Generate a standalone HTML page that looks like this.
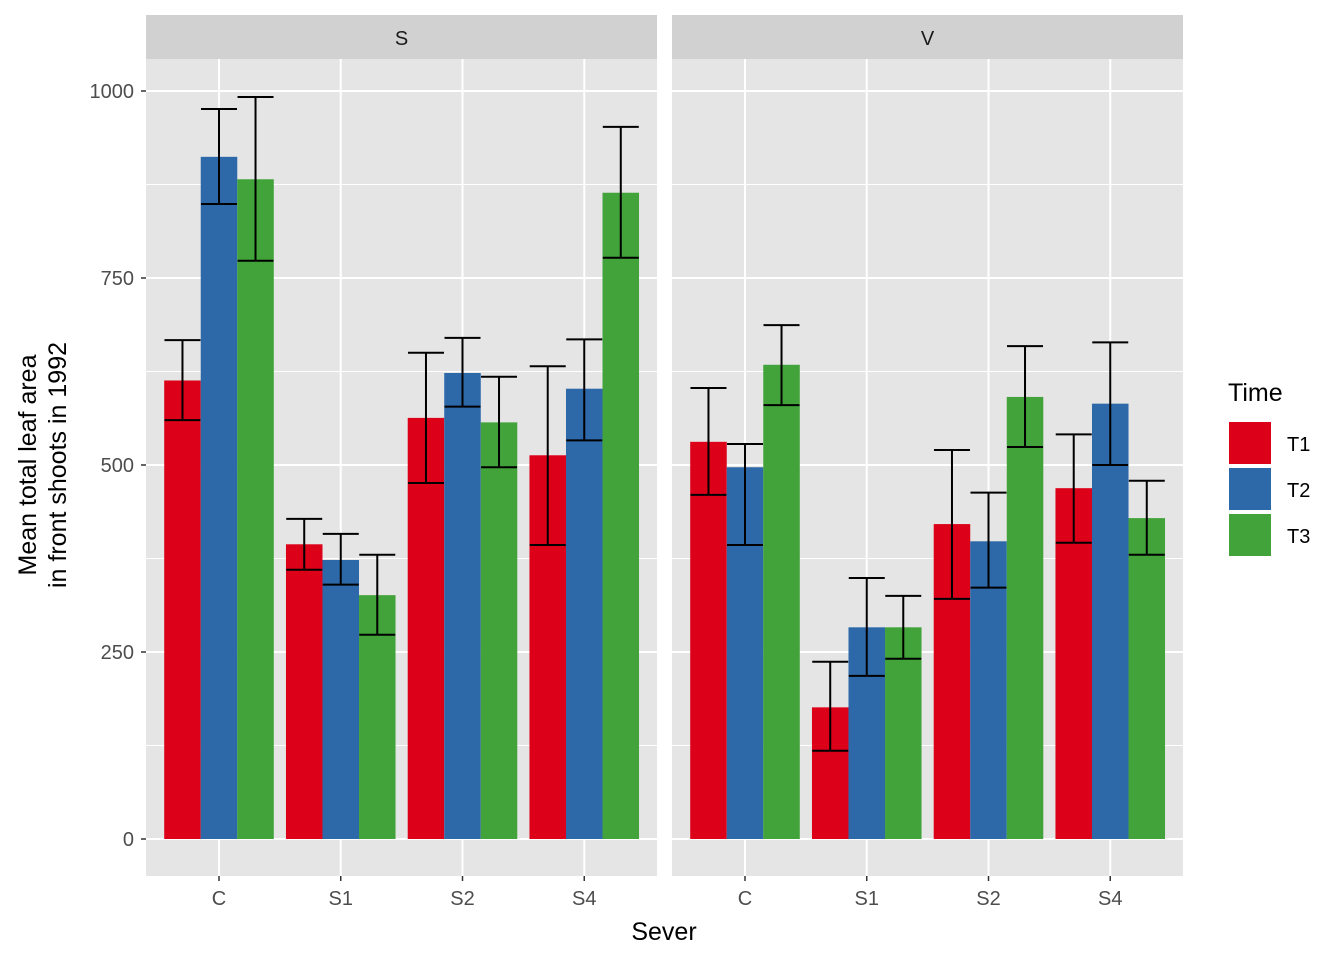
<!DOCTYPE html>
<html><head><meta charset="utf-8"><style>
body{margin:0;background:#fff;}
svg{display:block;font-family:"Liberation Sans",Arial,sans-serif;}
</style></head><body>
<svg id="c" width="1344" height="960"></svg>
<script>
const categories=["C","S1","S2","S4"];
const panels=["S","V"];
const series=["T1","T2","T3"];
const yTicks=[0,250,500,750,1000];
const S_T1=[613,394,563,513], S_T2=[912,373,623,602], S_T3=[882,326,557,864];
const S_T1_lo=[560,360,476,393], S_T1_hi=[667,428,650,632];
const S_T2_lo=[849,340,578,533], S_T2_hi=[976,408,670,668];
const S_T3_lo=[773,273,497,777], S_T3_hi=[992,380,618,952];
const V_T1=[531,176,421,469], V_T2=[497,283,398,582], V_T3=[634,283,591,429];
const V_T1_lo=[460,118,321,396], V_T1_hi=[603,237,520,541];
const V_T2_lo=[393,218,336,500], V_T2_hi=[528,349,463,664];
const V_T3_lo=[580,241,524,380], V_T3_hi=[687,325,659,479];

const colors=["#DC0019","#2D69A9","#41A33A"];
const NS="http://www.w3.org/2000/svg";
const svg=document.getElementById('c');
function mk(t,a,p){const e=document.createElementNS(NS,t);for(const k in a)e.setAttribute(k,a[k]);(p||svg).appendChild(e);return e;}
const y0=839,yk=0.748;
const Y=v=>y0-v*yk;
const panelX=[146,672],panelW=511,plotTop=59,plotBot=876;
const step=121.75;
const data={S:[[S_T1,S_T1_lo,S_T1_hi],[S_T2,S_T2_lo,S_T2_hi],[S_T3,S_T3_lo,S_T3_hi]],
            V:[[V_T1,V_T1_lo,V_T1_hi],[V_T2,V_T2_lo,V_T2_hi],[V_T3,V_T3_lo,V_T3_hi]]};
panels.forEach((p,pi)=>{
  const px=panelX[pi];
  const X=i=>px+73+i*step;
  const g=mk('g',{});
  
  
  mk('rect',{x:px,y:plotTop,width:panelW,height:plotBot-plotTop,fill:'#E5E5E5'},g);
  const st=mk('rect',{x:px,y:15,width:panelW,height:44,fill:'#D1D1D1'},g);
  
  
  const stt=mk('text',{x:px+panelW/2,y:45,'text-anchor':'middle','font-size':20,fill:'#1A1A1A'},g);
  stt.textContent=p;
  
  
  for(let v=125;v<1100;v+=250)mk('line',{x1:px,x2:px+panelW,y1:Y(v),y2:Y(v),stroke:'#fff','stroke-width':1},g);
  yTicks.forEach(v=>mk('line',{x1:px,x2:px+panelW,y1:Y(v),y2:Y(v),stroke:'#fff','stroke-width':2},g));
  categories.forEach((c,i)=>{
    mk('line',{x1:X(i),x2:X(i),y1:plotTop,y2:plotBot,stroke:'#fff','stroke-width':2},g);
    mk('line',{x1:X(i),x2:X(i),y1:plotBot,y2:plotBot+5,stroke:'#333','stroke-width':1.5},g);
    const t=mk('text',{x:X(i),y:905,'text-anchor':'middle','font-size':20,fill:'#4D4D4D'},g);
    t.textContent=c;
    
    
  });
  const bw=step*0.9/3;
  series.forEach((s,si)=>{
    const [vals,lo,hi]=data[p][si];
    categories.forEach((c,i)=>{
      const bx=X(i)-1.5*bw+si*bw;
      const r=mk('rect',{x:bx,y:Y(vals[i]),width:bw,height:Y(0)-Y(vals[i]),fill:colors[si]},g);
      
      
      const cx=bx+bw/2,hw=18;
      const e=mk('path',{d:`M${cx-hw},${Y(hi[i])}H${cx+hw}M${cx},${Y(hi[i])}V${Y(lo[i])}M${cx-hw},${Y(lo[i])}H${cx+hw}`,stroke:'#000','stroke-width':2,fill:'none'},g);
      
      
    });
  });
});
yTicks.forEach(v=>{
  mk('line',{x1:141,x2:146,y1:Y(v),y2:Y(v),stroke:'#333','stroke-width':1.5});
  const t=mk('text',{x:134,y:Y(v)+7,'text-anchor':'end','font-size':20,fill:'#4D4D4D'});
  t.textContent=v;
  
  
});
const xt=mk('text',{x:664,y:940,'text-anchor':'middle','font-size':25,fill:'#000'});
xt.textContent='Sever';


const yt=mk('text',{transform:'translate(36,465) rotate(-90)','text-anchor':'middle','font-size':25,fill:'#000'});


const l1=mk('tspan',{x:0,dy:0},yt);l1.textContent='Mean total leaf area';
const l2=mk('tspan',{x:0,dy:30},yt);l2.textContent='in front shoots in 1992';
const lt=mk('text',{x:1228,y:401,'font-size':25,fill:'#000'});
lt.textContent='Time';


series.forEach((s,si)=>{
  const yy=421+si*46;
  const k=mk('rect',{x:1228,y:yy,width:44,height:44,fill:colors[si],stroke:'#fff','stroke-width':2});
  
  
  const t=mk('text',{x:1287,y:yy+30,'font-size':20,fill:'#000'});
  t.textContent=s;
  
  
});
</script>
</body></html>
